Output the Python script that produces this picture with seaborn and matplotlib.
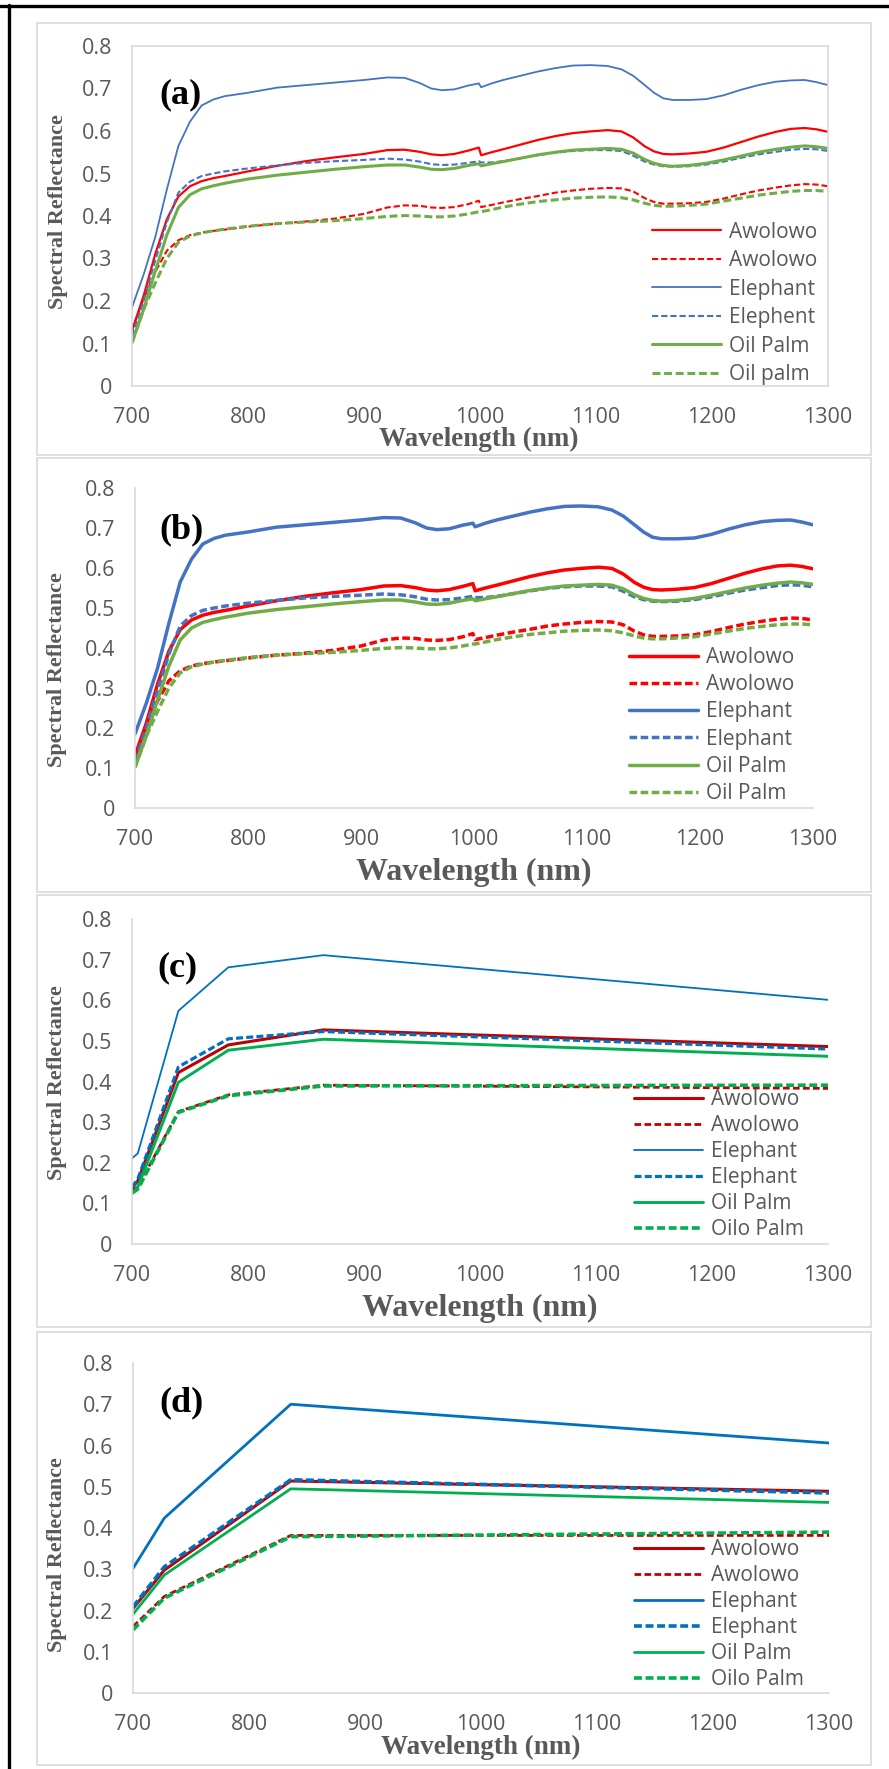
import numpy as np
import pandas as pd
import matplotlib
matplotlib.use("Agg")
import matplotlib.pyplot as plt
from matplotlib.patches import Rectangle
from matplotlib.lines import Line2D
import seaborn as sns

# ---------------- data ----------------
wl_ab = [700, 710, 720, 730, 740, 750, 760, 770, 780, 800, 825, 850, 875, 900, 920, 935, 948, 958,
         967, 978, 990, 999, 1001, 1010, 1020, 1035, 1050, 1065, 1080, 1095, 1110, 1122, 1132, 1142,
         1150, 1158, 1166, 1180, 1195, 1210, 1225, 1240, 1255, 1268, 1280, 1290, 1300]

awolowo_solid = [0.130, 0.212, 0.310, 0.392, 0.446, 0.470, 0.482, 0.489, 0.494, 0.505, 0.518, 0.529,
                 0.538, 0.546, 0.555, 0.556, 0.551, 0.545, 0.543, 0.546, 0.554, 0.561, 0.543, 0.550,
                 0.557, 0.568, 0.579, 0.588, 0.595, 0.599, 0.602, 0.599, 0.585, 0.564, 0.552, 0.546,
                 0.545, 0.547, 0.551, 0.561, 0.574, 0.587, 0.598, 0.605, 0.607, 0.604, 0.598]
awolowo_dash = [0.132, 0.205, 0.268, 0.318, 0.343, 0.355, 0.361, 0.365, 0.368, 0.375, 0.382, 0.387,
                0.394, 0.405, 0.420, 0.425, 0.424, 0.420, 0.419, 0.421, 0.428, 0.436, 0.421, 0.426,
                0.432, 0.440, 0.447, 0.455, 0.460, 0.464, 0.466, 0.465, 0.458, 0.442, 0.433, 0.429,
                0.429, 0.430, 0.433, 0.441, 0.451, 0.460, 0.467, 0.472, 0.475, 0.474, 0.470]
elephant_solid = [0.185, 0.262, 0.350, 0.462, 0.565, 0.622, 0.660, 0.674, 0.682, 0.690, 0.702, 0.708,
                  0.714, 0.720, 0.726, 0.725, 0.713, 0.700, 0.696, 0.698, 0.707, 0.712, 0.703, 0.712,
                  0.720, 0.730, 0.740, 0.748, 0.754, 0.755, 0.753, 0.745, 0.730, 0.708, 0.690, 0.677,
                  0.673, 0.673, 0.675, 0.684, 0.697, 0.708, 0.716, 0.719, 0.720, 0.715, 0.708]
elephant_dash = [0.118, 0.200, 0.295, 0.385, 0.455, 0.481, 0.494, 0.500, 0.505, 0.512, 0.519, 0.525,
                 0.529, 0.532, 0.535, 0.533, 0.528, 0.522, 0.520, 0.521, 0.525, 0.529, 0.526, 0.526,
                 0.529, 0.536, 0.543, 0.549, 0.553, 0.555, 0.555, 0.553, 0.542, 0.528, 0.521, 0.517,
                 0.516, 0.517, 0.521, 0.528, 0.537, 0.545, 0.551, 0.556, 0.558, 0.557, 0.553]
oilpalm_solid = [0.102, 0.180, 0.270, 0.355, 0.420, 0.450, 0.464, 0.471, 0.477, 0.487, 0.496, 0.503,
                 0.510, 0.516, 0.520, 0.520, 0.515, 0.510, 0.509, 0.512, 0.519, 0.523, 0.518, 0.523,
                 0.528, 0.536, 0.544, 0.550, 0.555, 0.557, 0.559, 0.557, 0.548, 0.533, 0.524, 0.519,
                 0.517, 0.519, 0.524, 0.532, 0.541, 0.550, 0.557, 0.562, 0.565, 0.563, 0.559]
oilpalm_dash = [0.102, 0.180, 0.242, 0.300, 0.338, 0.353, 0.360, 0.365, 0.369, 0.376, 0.382, 0.386,
                0.389, 0.394, 0.399, 0.401, 0.400, 0.398, 0.398, 0.400, 0.405, 0.410, 0.410, 0.415,
                0.421, 0.428, 0.434, 0.438, 0.442, 0.444, 0.445, 0.443, 0.438, 0.430, 0.425, 0.423,
                0.423, 0.425, 0.428, 0.435, 0.442, 0.449, 0.454, 0.458, 0.460, 0.460, 0.458]

wl_c = [700, 705, 740, 783, 865, 1300]
awolowo_solid_c = [0.138, 0.155, 0.422, 0.490, 0.527, 0.486]
awolowo_dash_c = [0.133, 0.140, 0.326, 0.367, 0.391, 0.383]
elephant_solid_c = [0.211, 0.223, 0.574, 0.681, 0.711, 0.601]
elephant_dash_c = [0.140, 0.160, 0.436, 0.505, 0.523, 0.480]
oilpalm_solid_c = [0.125, 0.140, 0.398, 0.477, 0.504, 0.462]
oilpalm_dash_c = [0.125, 0.135, 0.324, 0.365, 0.389, 0.391]

wl_d = [700, 727, 836, 1300]
awolowo_solid_d = [0.205, 0.298, 0.514, 0.489]
awolowo_dash_d = [0.161, 0.234, 0.382, 0.382]
elephant_solid_d = [0.302, 0.424, 0.700, 0.606]
elephant_dash_d = [0.209, 0.306, 0.517, 0.485]
oilpalm_solid_d = [0.191, 0.286, 0.495, 0.462]
oilpalm_dash_d = [0.153, 0.230, 0.379, 0.390]

labels_a = ["Awolowo", "Awolowo", "Elephant", "Elephent", "Oil Palm", "Oil palm"]
labels_b = ["Awolowo", "Awolowo", "Elephant", "Elephant", "Oil Palm", "Oil Palm"]
labels_cd = ["Awolowo", "Awolowo", "Elephant", "Elephant", "Oil Palm", "Oilo Palm"]
panel_tags = ["(a)", "(b)", "(c)", "(d)"]
x_ticks = [700, 800, 900, 1000, 1100, 1200, 1300]
y_ticks = [0, 0.1, 0.2, 0.3, 0.4, 0.5, 0.6, 0.7, 0.8]
y_ticklabels = ["0", "0.1", "0.2", "0.3", "0.4", "0.5", "0.6", "0.7", "0.8"]

# ---------------- style ----------------
sns.set_theme(style="white")
plt.rcParams["font.family"] = ["Open Sans", "DejaVu Sans"]

W, H = 889, 1769
fig = plt.figure(figsize=(W / 100, H / 100), dpi=100)


def fx(px):
    return px / W


def fy(py):
    return 1 - py / H


# outer black border (top and left)
fig.add_artist(Line2D([0, 1], [fy(6.5), fy(6.5)], transform=fig.transFigure, color="black", lw=2.4))
fig.add_artist(Line2D([fx(8.5), fx(8.5)], [0, fy(5)], transform=fig.transFigure, color="black", lw=2.4))

# panel frames (px: left, top, right, bottom)
frames = [(37, 23, 871, 455), (37, 458, 871, 892), (37, 895, 871, 1327), (37, 1332, 871, 1765)]
for (l, t, r, b) in frames:
    fig.add_artist(Rectangle((fx(l), fy(b)), (r - l) / W, (b - t) / H, transform=fig.transFigure,
                             fill=False, ec="#D9D9D9", lw=1.2))

rb_a = ["#FF0000", "#4472C4", "#70AD47"]
rb_c = ["#C00000", "#0070C0", "#00B050"]

panels = [
    dict(rect=(132, 46, 828, 386), wl=wl_ab,
         series=[awolowo_solid, awolowo_dash, elephant_solid, elephant_dash, oilpalm_solid, oilpalm_dash],
         colors=[rb_a[0], rb_a[0], rb_a[1], rb_a[1], rb_a[2], rb_a[2]],
         lws=[1.6, 1.5, 1.3, 1.5, 2.2, 2.2], dash=[(3.0, 1.4), (3.0, 1.4), (2.6, 1.2)],
         labels=labels_a, box=True, leg=(652, 303.5, 0.36), xl=(0.4986, -0.156, 19.5), yl=(-0.106, 0.512),
         tag=(0.069, 0.856)),
    dict(rect=(135, 488, 813, 808), wl=wl_ab,
         series=[awolowo_solid, awolowo_dash, elephant_solid, elephant_dash, oilpalm_solid, oilpalm_dash],
         colors=[rb_a[0], rb_a[0], rb_a[1], rb_a[1], rb_a[2], rb_a[2]],
         lws=[2.5, 2.5, 2.5, 2.5, 2.5, 2.5], dash=[(2.2, 1.0), (2.2, 1.0), (2.2, 1.0)],
         labels=labels_b, box=False, leg=(629, 725.5, 0.30), xl=(0.5, -0.2, 23), yl=(-0.115, 0.434),
         tag=(0.068, 0.869)),
    dict(rect=(132, 919, 828, 1244), wl=wl_c,
         series=[awolowo_solid_c, awolowo_dash_c, elephant_solid_c, elephant_dash_c, oilpalm_solid_c, oilpalm_dash_c],
         colors=[rb_c[0], rb_c[0], rb_c[1], rb_c[1], rb_c[2], rb_c[2]],
         lws=[2.2, 2.0, 1.3, 2.3, 2.1, 2.6], dash=[(2.4, 1.2), (2.2, 1.0), (2.2, 1.0)],
         labels=labels_cd, box=False, leg=(634, 1164.5, 0.24), xl=(0.5, -0.197, 23), yl=(-0.108, 0.498),
         tag=(0.066, 0.849)),
    dict(rect=(133, 1363, 829, 1693), wl=wl_d,
         series=[awolowo_solid_d, awolowo_dash_d, elephant_solid_d, elephant_dash_d, oilpalm_solid_d, oilpalm_dash_d],
         colors=[rb_c[0], rb_c[0], rb_c[1], rb_c[1], rb_c[2], rb_c[2]],
         lws=[2.2, 2.0, 2.0, 2.6, 2.0, 2.6], dash=[(2.4, 1.2), (2.2, 1.0), (2.2, 1.0)],
         labels=labels_cd, box=False, leg=(634, 1614.5, 0.24), xl=(0.5, -0.164, 19.5), yl=(-0.109, 0.421),
         tag=(0.069, 0.879)),
]

for i, p in enumerate(panels):
    l, t, r, b = p["rect"]
    ax = fig.add_axes([fx(l), fy(b), (r - l) / W, (b - t) / H])
    for j, vals in enumerate(p["series"]):
        df = pd.DataFrame({"wl": p["wl"], "refl": vals})
        sns.lineplot(data=df, x="wl", y="refl", ax=ax, color=p["colors"][j], lw=p["lws"][j],
                     estimator=None, sort=False, label=p["labels"][j], legend=False)
        line = ax.lines[-1]
        if j % 2 == 1:
            line.set_dashes(p["dash"][j // 2])
    ax.set_xlim(700, 1300)
    ax.set_ylim(0, 0.8)
    ax.set_xticks(x_ticks)
    ax.set_yticks(y_ticks)
    ax.set_yticklabels(y_ticklabels)
    ax.tick_params(direction="in", length=5, width=1.0, color="#D0D0D0", labelsize=15.5,
                   labelcolor="#595959", pad=14)
    ax.tick_params(axis="x", pad=15)
    for side in ["top", "right", "left", "bottom"]:
        ax.spines[side].set_color("#D9D9D9")
        ax.spines[side].set_linewidth(1.2)
    if not p["box"]:
        ax.spines["top"].set_visible(False)
        ax.spines["right"].set_visible(False)
    ax.set_facecolor("white")

    ax.set_xlabel("Wavelength (nm)", fontsize=p["xl"][2], fontweight="bold",
                  family=["Liberation Serif", "DejaVu Serif"], color="#595959")
    ax.xaxis.set_label_coords(p["xl"][0], p["xl"][1])
    ax.xaxis.label.set_va("center")
    ax.set_ylabel("Spectral Reflectance", fontsize=16, fontweight="bold",
                  family=["Liberation Serif", "DejaVu Serif"], color="#595959")
    ax.yaxis.set_label_coords(p["yl"][0], p["yl"][1])
    ax.yaxis.label.set_va("center")

    ax.text(p["tag"][0], p["tag"][1], panel_tags[i], transform=ax.transAxes, ha="center", va="center",
            fontsize=26, fontweight="bold", family=["Liberation Serif", "DejaVu Serif"], color="black")

    lx, ly, lsp = p["leg"]
    leg = ax.legend(loc="center left", bbox_to_anchor=(fx(lx), fy(ly)), bbox_transform=fig.transFigure,
                    frameon=False, fontsize=15, borderpad=0, borderaxespad=0, handlelength=3.3,
                    handletextpad=0.4, labelspacing=lsp)
    for txt in leg.get_texts():
        txt.set_color("#595959")

fig.savefig("out.png", dpi=100, facecolor="white")
